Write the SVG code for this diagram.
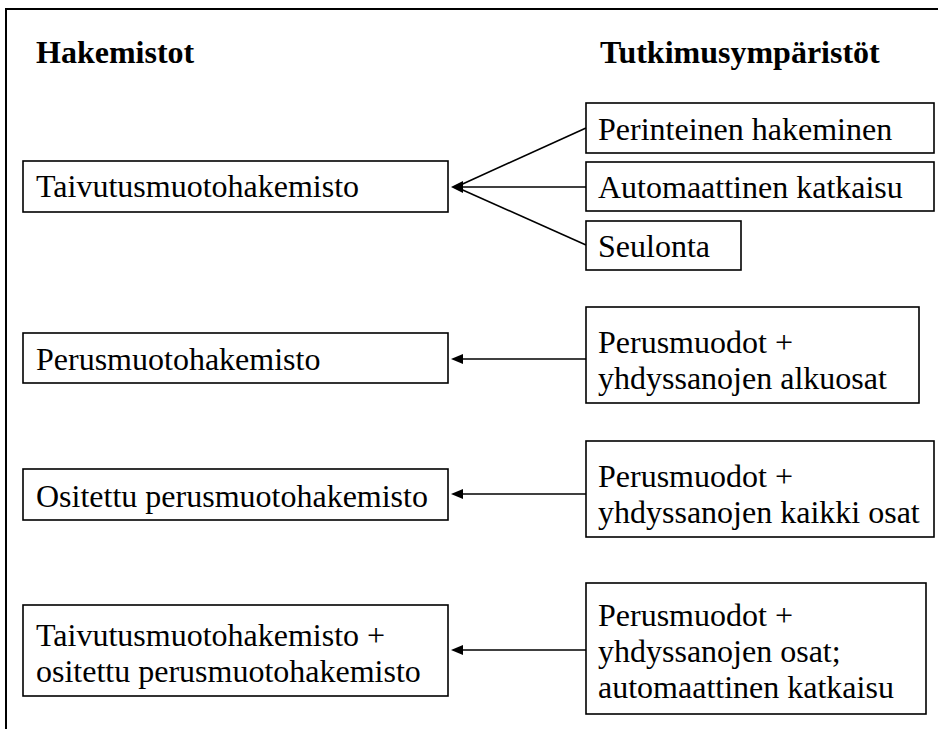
<svg xmlns="http://www.w3.org/2000/svg" width="938" height="729" viewBox="0 0 938 729">
<defs>
<style>
.box{fill:#fff;stroke:#000;stroke-width:1.6}
.t{font-family:"Liberation Serif","Times New Roman",serif;font-size:32px;fill:#000}
.h{font-family:"Liberation Serif","Times New Roman",serif;font-size:32px;font-weight:bold;fill:#000}
.c{stroke:#000;stroke-width:1.6;fill:none}
.ah{fill:#000}
</style>
</defs>
<rect width="938" height="729" fill="#fff"/>
<path d="M6,729 L6,9 L938,9" fill="none" stroke="#000" stroke-width="2"/>
<text class="h" x="36" y="63">Hakemistot</text>
<text class="h" x="600" y="63">Tutkimusympäristöt</text>

<g id="connectors">
<line class="c" x1="586" y1="128" x2="456" y2="187"/>
<line class="c" x1="586" y1="187" x2="463" y2="187"/>
<line class="c" x1="586" y1="245" x2="456" y2="187"/>
<path class="ah" d="M451,187 L463,181 L463,193 Z"/>
<line class="c" x1="586" y1="359" x2="462" y2="359"/>
<path class="ah" d="M451,359 L463,354 L463,364 Z"/>
<line class="c" x1="586" y1="494" x2="462" y2="494"/>
<path class="ah" d="M451,494 L463,489 L463,499 Z"/>
<line class="c" x1="586" y1="650" x2="462" y2="650"/>
<path class="ah" d="M451,650 L463,645 L463,655 Z"/>
</g>

<g id="L1"><rect class="box" x="23" y="161" width="425" height="51"/><text class="t" x="36" y="197">Taivutusmuotohakemisto</text></g>
<g id="L2"><rect class="box" x="23" y="333" width="425" height="50"/><text class="t" x="36" y="370">Perusmuotohakemisto</text></g>
<g id="L3"><rect class="box" x="23" y="469" width="425" height="51"/><text class="t" x="36" y="507">Ositettu perusmuotohakemisto</text></g>
<g id="L4"><rect class="box" x="23" y="605" width="425" height="91"/><text class="t" x="36" y="646">Taivutusmuotohakemisto +</text><text class="t" x="36" y="682">ositettu perusmuotohakemisto</text></g>

<g id="R1"><rect class="box" x="586" y="103" width="348" height="50"/><text class="t" x="598" y="140">Perinteinen hakeminen</text></g>
<g id="R2"><rect class="box" x="586" y="162" width="348" height="49"/><text class="t" x="598" y="198">Automaattinen katkaisu</text></g>
<g id="R3"><rect class="box" x="586" y="221" width="155" height="49"/><text class="t" x="598" y="257">Seulonta</text></g>
<g id="R4"><rect class="box" x="586" y="307" width="333" height="96"/><text class="t" x="598" y="353">Perusmuodot +</text><text class="t" x="598" y="389">yhdyssanojen alkuosat</text></g>
<g id="R5"><rect class="box" x="586" y="441" width="348" height="96"/><text class="t" x="598" y="487">Perusmuodot +</text><text class="t" x="598" y="523">yhdyssanojen kaikki osat</text></g>
<g id="R6"><rect class="box" x="586" y="583" width="340" height="131"/><text class="t" x="598" y="626">Perusmuodot +</text><text class="t" x="598" y="662">yhdyssanojen osat;</text><text class="t" x="598" y="698">automaattinen katkaisu</text></g>
</svg>
